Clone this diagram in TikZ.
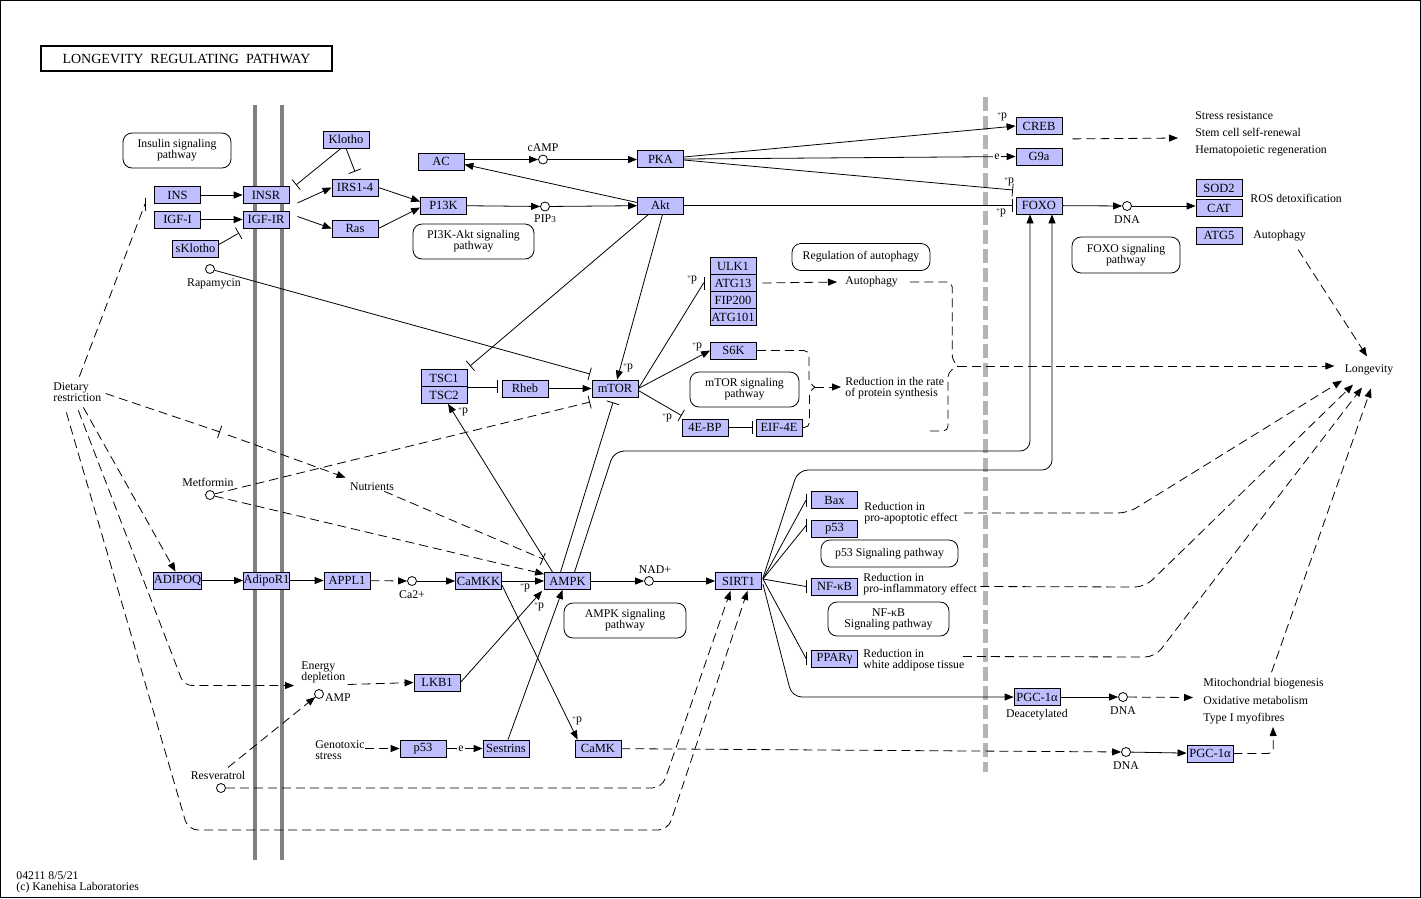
\documentclass[tikz,border=0pt]{standalone}
\usepackage{fontspec}
\setmainfont{Liberation Serif}
\usepackage{xcolor}
\definecolor{keggblue}{HTML}{BFBFFF}
\definecolor{membranegray}{HTML}{808080}
\definecolor{nucleusgray}{HTML}{B4B4B4}
\usepackage{tikz}
\usetikzlibrary{arrows.meta, positioning, calc}
\newcommand{\phos}{\raisebox{2pt}{\scriptsize+}p}

\begin{document}
\begin{tikzpicture}[x=1pt, y=-1pt, line width=0.8pt,
  gene/.style={draw, fill=keggblue, minimum width=46pt, minimum height=17pt,
    inner sep=0pt, font=\fontsize{12.5}{12}\selectfont},
  pbox/.style={draw, rounded corners=9pt, align=center, inner sep=0pt,
    font=\fontsize{11.8}{11}\selectfont},
  cpd/.style={circle, draw, fill=white, minimum size=9pt, inner sep=0pt},
  txt/.style={inner sep=0pt, align=left, font=\fontsize{11.8}{11}\selectfont},
  elab/.style={txt, fill=white, inner sep=1pt},
  membrane/.style={draw=membranegray, line width=4pt},
  nucleus/.style={draw=nucleusgray, line width=5pt, dash pattern=on 14pt off 5pt},
  act/.style={-{Triangle[length=9pt, width=7pt]}},
  inh/.style={-{Bar[width=13pt]}},
  ind/.style={dash pattern=on 9pt off 5pt}
]
  \useasboundingbox (0,0) rectangle (1421,898);
  \draw (0.5,0.5) rectangle (1420.5,897.5);

  % membranes and nuclear border
  \draw[membrane] (255,105) -- (255,860);
  \draw[membrane] (282,105) -- (282,860);
  \draw[nucleus] (985,97) -- (985,772);

  \node[draw, line width=1.3pt, minimum width=291pt, minimum height=25pt, inner sep=0pt,
    font=\fontsize{14}{14}\selectfont] (title) at (186.5,58.5) {LONGEVITY\ \ REGULATING\ \ PATHWAY};

  % pathway maps
  \node[pbox, minimum width=108pt, minimum height=35pt] (insulinpw) at (177,150.5) {Insulin signaling\\pathway};
  \node[pbox, minimum width=121pt, minimum height=35pt] (pikpw) at (473.5,241.5) {PI3K-Akt signaling\\pathway};
  \node[pbox, minimum width=138pt, minimum height=27pt] (autopw) at (861,257) {Regulation of autophagy};
  \node[pbox, minimum width=108pt, minimum height=36pt] (foxopw) at (1126,255) {FOXO signaling\\pathway};
  \node[pbox, minimum width=109pt, minimum height=35pt] (mtorpw) at (744.5,389.5) {mTOR signaling\\pathway};
  \node[pbox, minimum width=122pt, minimum height=35pt] (ampkpw) at (625,620.5) {AMPK signaling\\pathway};
  \node[pbox, minimum width=137pt, minimum height=27pt] (pffpw) at (889.5,553.5) {p53 Signaling pathway};
  \node[pbox, minimum width=121pt, minimum height=34pt] (nfkbpw) at (888.5,619) {NF-κB\\Signaling pathway};

  % genes
  \node[gene] (klotho) at (346,139.5) {Klotho};
  \node[gene] (ins) at (177.5,195) {INS};
  \node[gene] (insr) at (266,195) {INSR};
  \node[gene] (igfi) at (177.5,219.5) {IGF-I};
  \node[gene] (igfir) at (266,219.5) {IGF-IR};
  \node[gene] (sklotho) at (195.5,248.5) {sKlotho};
  \node[gene] (irs) at (355,187.5) {IRS1-4};
  \node[gene] (ras) at (355,228.5) {Ras};
  \node[gene] (ac) at (441,161.5) {AC};
  \node[gene] (pik) at (443.5,205.5) {P13K};
  \node[gene] (pka) at (660.5,159) {PKA};
  \node[gene] (akt) at (660.5,205.5) {Akt};
  \node[gene] (creb) at (1039,126) {CREB};
  \node[gene] (gnine) at (1039,156.5) {G9a};
  \node[gene] (foxo) at (1039,205.5) {FOXO};
  \node[gene] (sod) at (1219,188) {SOD2};
  \node[gene] (cat) at (1219,208) {CAT};
  \node[gene] (atgfive) at (1219,235.5) {ATG5};
  \node[gene] (ulk) at (733,266) {ULK1};
  \node[gene] (atgthirteen) at (733,283) {ATG13};
  \node[gene] (fip) at (733,300) {FIP200};
  \node[gene] (atgoneoone) at (733,317) {ATG101};
  \node[gene] (sixk) at (733.5,350.5) {S6K};
  \node[gene] (tscone) at (444,378) {TSC1};
  \node[gene] (tsctwo) at (444,395) {TSC2};
  \node[gene] (rheb) at (525,388.5) {Rheb};
  \node[gene] (mtor) at (615,388.5) {mTOR};
  \node[gene] (ebp) at (705,427.5) {4E-BP};
  \node[gene] (eif) at (779,427.5) {EIF-4E};
  \node[gene] (adipoq) at (177.5,580.5) {ADIPOQ};
  \node[gene] (adipor) at (266.5,580.5) {AdipoR1};
  \node[gene] (appl) at (347,580.5) {APPL1};
  \node[gene] (camkk) at (478.5,581) {CaMKK};
  \node[gene] (ampk) at (567.5,581) {AMPK};
  \node[gene] (sirt) at (738.5,581) {SIRT1};
  \node[gene] (lkb) at (437,682.5) {LKB1};
  \node[gene] (bax) at (834.5,500) {Bax};
  \node[gene] (pffr) at (834.5,528.5) {p53};
  \node[gene] (nfkb) at (834.5,586.5) {NF-κB};
  \node[gene] (ppar) at (834.5,658.5) {PPARγ};
  \node[gene] (pgca) at (1037,697) {PGC-1α};
  \node[gene] (pgcb) at (1210,753.5) {PGC-1α};
  \node[gene] (pffb) at (423,748.5) {p53};
  \node[gene] (sestrins) at (506,748.5) {Sestrins};
  \node[gene] (camk) at (598,748.5) {CaMK};

  % compounds
  \node[cpd] (camp) at (543,159.5) {};
  \node[cpd] (pip) at (545,206.5) {};
  \node[cpd] (dnaa) at (1127,206) {};
  \node[cpd] (rapa) at (210,269) {};
  \node[cpd] (metf) at (210,495) {};
  \node[cpd] (ca) at (412,581) {};
  \node[cpd] (nad) at (649,581) {};
  \node[cpd] (amp) at (319,694) {};
  \node[cpd] (resv) at (221,788) {};
  \node[cpd] (dnab) at (1123,697) {};
  \node[cpd] (dnac) at (1126,752) {};
  \node[txt, above=3pt of camp] (camptxt) {cAMP};
  \node[txt, below=3pt of pip] (piptxt) {PIP{\fontsize{9}{9}\selectfont 3}};
  \node[txt, below=4pt of dnaa] (dnaatxt) {DNA};
  \node[txt] (rapatxt) at (214,284) {Rapamycin};
  \node[txt] (metftxt) at (208,482) {Metformin};
  \node[txt, below=4pt of ca] (catxt) {Ca2+};
  \node[txt] (nadtxt) at (655,570) {NAD+};
  \node[txt] (amptxt) at (338,697.5) {AMP};
  \node[txt] (resvtxt) at (218,775) {Resveratrol};
  \node[txt, below=4pt of dnab] (dnabtxt) {DNA};
  \node[txt, below=4pt of dnac] (dnactxt) {DNA};

  % labels
  \node[txt, anchor=west] (stress) at (1195,134) {Stress resistance\\[6pt]Stem cell self-renewal\\[6pt]Hematopoietic regeneration};
  \node[txt, anchor=west] (ros) at (1250,198) {ROS detoxification};
  \node[txt, anchor=west] (autoR) at (1253,236) {Autophagy};
  \node[txt, anchor=west] (autoM) at (845,282) {Autophagy};
  \node[txt, anchor=west] (reduceprot) at (845,388.5) {Reduction in the rate\\of protein synthesis};
  \node[txt] (longev) at (1369,370) {Longevity};
  \node[txt, anchor=west] (diet) at (53,392.5) {Dietary\\restriction};
  \node[txt] (nutr) at (372,487) {Nutrients};
  \node[txt, anchor=west] (energy) at (301,672.5) {Energy\\depletion};
  \node[txt, anchor=west] (genotox) at (315,750.5) {Genotoxic\\stress};
  \node[txt, anchor=west] (apopt) at (864,513) {Reduction in\\pro-apoptotic effect};
  \node[txt, anchor=west] (inflam) at (863,584.5) {Reduction in\\pro-inflammatory effect};
  \node[txt, anchor=west] (adipose) at (863,660.5) {Reduction in\\white addipose tissue};
  \node[txt] (deacet) at (1037,715) {Deacetylated};
  \node[txt, anchor=west] (mito) at (1203,701.5) {Mitochondrial biogenesis\\[6.5pt]Oxidative metabolism\\[6.5pt]Type I myofibres};
  \node[txt, anchor=west] (foot) at (16,882.5) {04211 8/5/21\\(c) Kanehisa Laboratories};

  % free ends
  \coordinate (klothoend) at (296,185);
  \coordinate (skend) at (239,233);
  \coordinate (dietend) at (145,204);
  \coordinate (dietmid) at (220,432);
  \coordinate (nutrstart) at (228,435);
  \coordinate (tscend) at (470,366);
  \coordinate (rapaend) at (590,374);
  \coordinate (metfend) at (590,402);
  \coordinate (foxoend) at (1013,190);
  \coordinate (protlow) at (930,431);
  \coordinate (protbrace) at (815,387);
  \coordinate (longbrace) at (958,366);
  \coordinate (mitoend) at (1273,727);

  % insulin / IGF
  \draw[act] (ins) -- (insr);
  \draw[act] (igfi) -- (igfir);
  \draw[inh] ([xshift=-5pt]klotho.south) -- (klothoend);
  \draw[inh] (klotho.south) -- ([yshift=7pt]irs.north);
  \draw[inh] ([yshift=4pt]sklotho.east) -- (skend);
  \draw[act] ([xshift=8pt,yshift=-8pt]insr.east) -- (irs.west);
  \draw[act] ([xshift=8pt,yshift=3pt]igfir.east) -- (ras.west);
  \draw[act] (irs.east) -- ([yshift=4pt]pik.west);
  \draw[act] (ras.east) -- ([yshift=-2pt]pik.west);
  \draw[act] (pik) -- (pip);
  \draw[act] (pip) -- (akt);
  \draw[act] (ac.east |- camp) -- (camp);
  \draw[act] (camp) -- (pka.west |- camp);
  \draw[act] ([yshift=3pt]akt.west) -- ([yshift=-3pt]ac.east);

  % PKA / Akt to the nucleus
  \draw[act] ([yshift=2pt]pka.east) -- (creb.west);
  \draw[act] (pka.east) -- (gnine.west);
  \draw[inh] ([yshift=-1pt]pka.east) -- (foxoend);
  \draw[inh] (akt.east) -- ([xshift=-3pt]foxo.west);
  \draw[act] (foxo) -- (dnaa);
  \draw[act] (dnaa) -- (cat.west |- dnaa);
  \draw[act, ind] ([xshift=10pt,yshift=-4pt]creb.south east) -- ([xshift=-17pt,yshift=-4pt]stress.west);
  \draw[act, ind] ([xshift=-8pt,yshift=-8pt]autoR.south east) -- ($(longev.north)+(-2,-8)$);

  % mTOR
  \draw[inh] ([xshift=-12pt]akt.south) -- (tscend);
  \draw[act] ([xshift=2pt]akt.south) -- ([xshift=2pt]mtor.north);
  \draw[inh] (rapa) -- (rapaend);
  \draw[inh] (tscone.south east) -- ([xshift=-4pt]rheb.west |- tscone.south east);
  \draw[act] (rheb) -- (mtor);
  \draw[inh, ind] (metf) -- (metfend);
  \draw[inh] (mtor.east) -- ([xshift=-6pt]atgthirteen.west) -- ++(1,0);
  \draw[act] (mtor.east) -- (sixk.west);
  \draw[inh] ([yshift=-2pt]mtor.east) -- ([yshift=3pt]ebp.north west);
  \draw[inh] (ebp) -- ([xshift=-3pt]eif.west);
  \draw[act, ind] ([xshift=6pt]atgthirteen.east) -- ([xshift=-8pt]autoM.west);
  \draw[ind, rounded corners=5pt] (sixk.east) -- ++(52,0) -- ++(0,33) -- (protbrace);
  \draw[ind, rounded corners=5pt] (eif.east) -- ++(7,0) -- ++(0,-36) -- (protbrace);
  \draw[act, ind] (protbrace) -- ([xshift=-4pt]reduceprot.west |- protbrace);
  \draw[ind, rounded corners=5pt] ([xshift=12pt]autoM.east) -- ++(42,0) -- ++(0,78) -- (longbrace);
  \draw[ind, rounded corners=5pt] (protlow) -- ++(18,0) -- ++(0,-59) -- (longbrace);
  \draw[act, ind] (longbrace) -- ($(longev.west)+(-10,-4)$);

  % dietary restriction
  \draw[inh, ind] ($(diet.north)+(2,-6)$) -- (dietend) -- ++(1,0);
  \draw[inh, ind] ($(diet.east)+(4,1)$) -- (dietmid);
  \draw[act, ind] (nutrstart) -- ([xshift=-4pt,yshift=5pt]nutr.north west);
  \draw[inh, ind] ([xshift=-10pt]nutr.south east) -- ([xshift=-1pt,yshift=13pt]ampk.north west);
  \draw[act, ind] (metf) -- ([yshift=-2pt]ampk.north west);
  \draw[act, ind] ($(diet.south)+(6,5)$) -- ([xshift=-2pt]adipoq.north);
  \draw[act, ind, rounded corners=8pt] ($(diet.south)+(1,8)$) -- ($(energy.west)+(-117,13)$) -- ($(energy.west)+(-7,13)$);
  \draw[act, ind, rounded corners=10pt] ($(diet.south)+(-11,10)$) -- (188,830) -- (668,830) -- ($(sirt.south)+(9,1)$);
  \draw[act, ind, rounded corners=10pt] (resv) -- (662,788) -- ($(sirt.south)+(-8,1)$);
  \draw[act, ind] ([xshift=10pt,yshift=3pt]resvtxt.north) -- (amp);
  \draw[act, ind] ($(energy.east)+(2,12)$) -- (lkb.west);

  % AMPK
  \draw[act] (adipoq) -- (adipor);
  \draw[act] (adipor) -- (appl);
  \draw[act, ind] (appl) -- (ca);
  \draw[act] (ca) -- (camkk);
  \draw[act] (camkk) -- (ampk);
  \draw[act] (lkb.east) -- ([xshift=-2pt,yshift=-1pt]ampk.south west);
  \draw[act] ([xshift=2pt]sestrins.north) -- ([xshift=-5pt]ampk.south);
  \draw[act] ([yshift=-4pt]camkk.east) -- ([xshift=3pt]camk.north west);
  \draw[act] ([xshift=-15pt]ampk.north) -- ([xshift=4pt]tsctwo.south);
  \draw[inh] ([xshift=-7pt]ampk.north) -- ([xshift=-2pt,yshift=-5pt]mtor.south);
  \draw[act, rounded corners=10pt] ([xshift=7pt]ampk.north) -- (614,451) -- (1030,451) -- ([xshift=-9pt]foxo.south);
  \draw[act] (ampk) -- (nad);
  \draw[act] (nad) -- (sirt);
  \draw[act, ind] ([yshift=2pt]genotox.east) -- (pffb.west);
  \draw[act] (pffb) -- (sestrins);
  \draw[act, ind] (camk) -- (dnac);
  \draw[act] (dnac) -- (pgcb);
  \draw[act, ind, rounded corners=5pt] (pgcb.east) -- ++(40,0) -- (mitoend);

  % SIRT1 targets
  \draw[inh] ($(sirt.east)+(1,-2)$) -- ([xshift=-5pt]bax.west) -- ++(1,0);
  \draw[inh] ($(sirt.east)+(1,-2)$) -- ([xshift=-5pt,yshift=3pt]pffr.west) -- ++(1,0);
  \draw[inh] ($(sirt.east)+(1,-2)$) -- ([xshift=-5pt]nfkb.west) -- ++(1,0);
  \draw[inh] ($(sirt.east)+(1,-2)$) -- ([xshift=-5pt]ppar.west) -- ++(1,0);
  \draw[act, rounded corners=10pt] ($(sirt.east)+(1,-3)$) -- (798,470) -- (1052,470) -- ([xshift=13pt]foxo.south);
  \draw[act, rounded corners=10pt] ($(sirt.east)+(1,3)$) -- (792,697) -- (pgca.west);
  \draw[act] (pgca) -- (dnab);
  \draw[act, ind] (dnab) -- ([xshift=-10pt,yshift=4pt]mito.west);

  % to longevity
  \draw[act, ind, rounded corners=10pt] ([xshift=6pt]apopt.east) -- (1128,513) -- ($(longev.south)+(-27,5)$);
  \draw[act, ind, rounded corners=10pt] ([xshift=3pt,yshift=-2pt]inflam.east) -- (1145,587) -- ($(longev.south)+(-16,9)$);
  \draw[act, ind, rounded corners=10pt] ([xshift=-2pt,yshift=4pt]adipose.east) -- (1155,657) -- ($(longev.south)+(-7,12)$);
  \draw[act, ind] ([xshift=8pt,yshift=6pt]mito.north) -- ($(longev.south)+(2,13)$);

  % edge labels
  \node[elab] (egnine) at (997,157) {e};
  \node[elab] (esestrins) at (461,749) {e};
  \node[txt] (pcreb) at (1002,117) {\phos};
  \node[txt] (pfoxoa) at (1009,182) {\phos};
  \node[txt] (pfoxob) at (1001,213) {\phos};
  \node[txt] (pmtor) at (628,368) {\phos};
  \node[txt] (pulk) at (692,280) {\phos};
  \node[txt] (psixk) at (697,347) {\phos};
  \node[txt] (pebp) at (667,418) {\phos};
  \node[txt] (ptsc) at (463,412) {\phos};
  \node[txt] (pcamkk) at (525,588) {\phos};
  \node[txt] (plkb) at (539,607) {\phos};
  \node[txt] (pcamk) at (577,721) {\phos};
\end{tikzpicture}
\end{document}
